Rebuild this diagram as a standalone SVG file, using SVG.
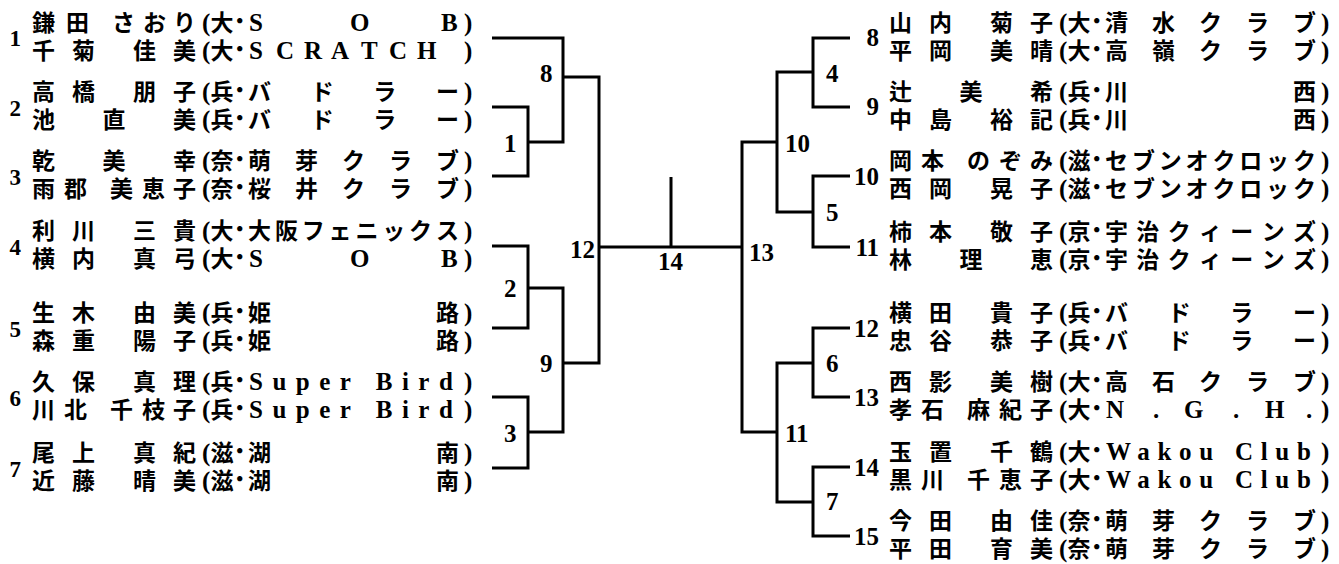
<svg xmlns="http://www.w3.org/2000/svg" width="1339" height="564" viewBox="0 0 1339 564">
<style>
.ln{fill:none;stroke:#000;stroke-width:3;stroke-linejoin:miter;stroke-linecap:butt}
.nm{font-family:'Liberation Serif','Noto Sans CJK JP',serif;font-weight:700;font-size:23px;fill:#000}
.lt{font-size:25px}
.dt{font-size:27px}
.num{font-family:'Liberation Serif',serif;font-weight:700;font-size:25px;fill:#000}
.sdl{font-family:'Liberation Serif',serif;font-weight:700;font-size:23px;fill:#000;text-anchor:end}
.sdr{font-family:'Liberation Serif',serif;font-weight:700;font-size:25px;fill:#000;text-anchor:end}
</style>
<rect width="1339" height="564" fill="#fff"/>
<g id="connectors">
<path class="ln" d="M492,38 H563 V142 H528 M492,107 H528 V176 H492 M563,77 H599 V363 H563 M492,246 H528 V328 H492 M528,288 H563 V432 H528 M492,397 H528 V468 H492 M599,247 H742 M671,177 V247"/>
<path class="ln" d="M777,142 H742 V432 H777 M813,72 H777 V212 H813 M850,38 H813 V107 H850 M850,176 H813 V247 H850 M813,363 H777 V502 H813 M850,328 H813 V397 H850 M850,467 H813 V536 H850"/>
<g id="match-labels" class="num">
<text x="540" y="82">8</text>
<text x="504" y="152">1</text>
<text x="570" y="258">12</text>
<text x="504" y="297">2</text>
<text x="540" y="372">9</text>
<text x="504" y="442">3</text>
<text x="658" y="270">14</text>
<text x="749" y="261">13</text>
<text x="785" y="152">10</text>
<text x="826" y="82">4</text>
<text x="826" y="221">5</text>
<text x="785" y="442">11</text>
<text x="826" y="372">6</text>
<text x="826" y="510">7</text>
</g>
</g>
<g id="seed1">
<text class="sdl" x="21" y="46">1</text>
<text class="nm" y="31"><tspan x="32 66 112 143 173">鎌田さおり</tspan><tspan class="lt" x="202">(</tspan><tspan x="210.5">大</tspan><tspan class="dt" x="233">･</tspan><tspan class="lt" x="249 300 350 395 441">S O B</tspan><tspan class="lt" x="464">)</tspan></text>
<text class="nm" y="59"><tspan x="32 72 133 173">千菊佳美</tspan><tspan class="lt" x="202">(</tspan><tspan x="210.5">大</tspan><tspan class="dt" x="233">･</tspan><tspan class="lt" x="249 276 304 331 361 389 417">SCRATCH</tspan><tspan class="lt" x="464">)</tspan></text>
</g>
<g id="seed2">
<text class="sdl" x="21" y="116">2</text>
<text class="nm" y="100"><tspan x="32 72 133 173">高橋朋子</tspan><tspan class="lt" x="202">(</tspan><tspan x="210.5">兵</tspan><tspan class="dt" x="233">･</tspan><tspan x="248 310.7 373.3 436">バドラー</tspan><tspan class="lt" x="464">)</tspan></text>
<text class="nm" y="128"><tspan x="32 102.5 173">池直美</tspan><tspan class="lt" x="202">(</tspan><tspan x="210.5">兵</tspan><tspan class="dt" x="233">･</tspan><tspan x="248 310.7 373.3 436">バドラー</tspan><tspan class="lt" x="464">)</tspan></text>
</g>
<g id="seed3">
<text class="sdl" x="21" y="185">3</text>
<text class="nm" y="169"><tspan x="32 102.5 173">乾美幸</tspan><tspan class="lt" x="202">(</tspan><tspan x="210.5">奈</tspan><tspan class="dt" x="233">･</tspan><tspan x="248 295 342 389 436">萌芽クラブ</tspan><tspan class="lt" x="464">)</tspan></text>
<text class="nm" y="197"><tspan x="32 64 110 142 173">雨郡美恵子</tspan><tspan class="lt" x="202">(</tspan><tspan x="210.5">奈</tspan><tspan class="dt" x="233">･</tspan><tspan x="248 295 342 389 436">桜井クラブ</tspan><tspan class="lt" x="464">)</tspan></text>
</g>
<g id="seed4">
<text class="sdl" x="21" y="255">4</text>
<text class="nm" y="239"><tspan x="32 72 133 173">利川三貴</tspan><tspan class="lt" x="202">(</tspan><tspan x="210.5">大</tspan><tspan class="dt" x="233">･</tspan><tspan x="248 274.9 301.7 328.6 355.4 382.3 409.1 436">大阪フェニックス</tspan><tspan class="lt" x="464">)</tspan></text>
<text class="nm" y="267"><tspan x="32 72 133 173">横内真弓</tspan><tspan class="lt" x="202">(</tspan><tspan x="210.5">大</tspan><tspan class="dt" x="233">･</tspan><tspan class="lt" x="249 300 350 395 441">S O B</tspan><tspan class="lt" x="464">)</tspan></text>
</g>
<g id="seed5">
<text class="sdl" x="21" y="337">5</text>
<text class="nm" y="321"><tspan x="32 72 133 173">生木由美</tspan><tspan class="lt" x="202">(</tspan><tspan x="210.5">兵</tspan><tspan class="dt" x="233">･</tspan><tspan x="248 436">姫路</tspan><tspan class="lt" x="464">)</tspan></text>
<text class="nm" y="349"><tspan x="32 72 133 173">森重陽子</tspan><tspan class="lt" x="202">(</tspan><tspan x="210.5">兵</tspan><tspan class="dt" x="233">･</tspan><tspan x="248 436">姫路</tspan><tspan class="lt" x="464">)</tspan></text>
</g>
<g id="seed6">
<text class="sdl" x="21" y="406">6</text>
<text class="nm" y="390"><tspan x="32 72 133 173">久保真理</tspan><tspan class="lt" x="202">(</tspan><tspan x="210.5">兵</tspan><tspan class="dt" x="233">･</tspan><tspan class="lt" x="249" letter-spacing="9.5">Super Bird</tspan><tspan class="lt" x="464">)</tspan></text>
<text class="nm" y="418"><tspan x="32 64 110 142 173">川北千枝子</tspan><tspan class="lt" x="202">(</tspan><tspan x="210.5">兵</tspan><tspan class="dt" x="233">･</tspan><tspan class="lt" x="249" letter-spacing="9.5">Super Bird</tspan><tspan class="lt" x="464">)</tspan></text>
</g>
<g id="seed7">
<text class="sdl" x="21" y="477">7</text>
<text class="nm" y="461"><tspan x="32 72 133 173">尾上真紀</tspan><tspan class="lt" x="202">(</tspan><tspan x="210.5">滋</tspan><tspan class="dt" x="233">･</tspan><tspan x="248 436">湖南</tspan><tspan class="lt" x="464">)</tspan></text>
<text class="nm" y="489"><tspan x="32 72 133 173">近藤晴美</tspan><tspan class="lt" x="202">(</tspan><tspan x="210.5">滋</tspan><tspan class="dt" x="233">･</tspan><tspan x="248 436">湖南</tspan><tspan class="lt" x="464">)</tspan></text>
</g>
<g id="seed8">
<text class="sdr" x="879" y="46">8</text>
<g transform="translate(857,0)">
<text class="nm" y="31"><tspan x="32 72 133 173">山内菊子</tspan><tspan class="lt" x="202">(</tspan><tspan x="210.5">大</tspan><tspan class="dt" x="233">･</tspan><tspan x="248 295 342 389 436">清水クラブ</tspan><tspan class="lt" x="464">)</tspan></text>
<text class="nm" y="59"><tspan x="32 72 133 173">平岡美晴</tspan><tspan class="lt" x="202">(</tspan><tspan x="210.5">大</tspan><tspan class="dt" x="233">･</tspan><tspan x="248 295 342 389 436">高嶺クラブ</tspan><tspan class="lt" x="464">)</tspan></text>
</g>
</g>
<g id="seed9">
<text class="sdr" x="879" y="115">9</text>
<g transform="translate(857,0)">
<text class="nm" y="100"><tspan x="32 102.5 173">辻美希</tspan><tspan class="lt" x="202">(</tspan><tspan x="210.5">兵</tspan><tspan class="dt" x="233">･</tspan><tspan x="248 436">川西</tspan><tspan class="lt" x="464">)</tspan></text>
<text class="nm" y="128"><tspan x="32 72 133 173">中島裕記</tspan><tspan class="lt" x="202">(</tspan><tspan x="210.5">兵</tspan><tspan class="dt" x="233">･</tspan><tspan x="248 436">川西</tspan><tspan class="lt" x="464">)</tspan></text>
</g>
</g>
<g id="seed10">
<text class="sdr" x="879" y="185">10</text>
<g transform="translate(857,0)">
<text class="nm" y="169"><tspan x="32 64 110 142 173">岡本のぞみ</tspan><tspan class="lt" x="202">(</tspan><tspan x="210.5">滋</tspan><tspan class="dt" x="233">･</tspan><tspan x="248 274.9 301.7 328.6 355.4 382.3 409.1 436">セブンオクロック</tspan><tspan class="lt" x="464">)</tspan></text>
<text class="nm" y="197"><tspan x="32 72 133 173">西岡晃子</tspan><tspan class="lt" x="202">(</tspan><tspan x="210.5">滋</tspan><tspan class="dt" x="233">･</tspan><tspan x="248 274.9 301.7 328.6 355.4 382.3 409.1 436">セブンオクロック</tspan><tspan class="lt" x="464">)</tspan></text>
</g>
</g>
<g id="seed11">
<text class="sdr" x="879" y="256">11</text>
<g transform="translate(857,0)">
<text class="nm" y="240"><tspan x="32 72 133 173">柿本敬子</tspan><tspan class="lt" x="202">(</tspan><tspan x="210.5">京</tspan><tspan class="dt" x="233">･</tspan><tspan x="248 279.3 310.7 342 373.3 404.7 436">宇治クィーンズ</tspan><tspan class="lt" x="464">)</tspan></text>
<text class="nm" y="268"><tspan x="32 102.5 173">林理恵</tspan><tspan class="lt" x="202">(</tspan><tspan x="210.5">京</tspan><tspan class="dt" x="233">･</tspan><tspan x="248 279.3 310.7 342 373.3 404.7 436">宇治クィーンズ</tspan><tspan class="lt" x="464">)</tspan></text>
</g>
</g>
<g id="seed12">
<text class="sdr" x="879" y="337">12</text>
<g transform="translate(857,0)">
<text class="nm" y="321"><tspan x="32 72 133 173">横田貴子</tspan><tspan class="lt" x="202">(</tspan><tspan x="210.5">兵</tspan><tspan class="dt" x="233">･</tspan><tspan x="248 310.7 373.3 436">バドラー</tspan><tspan class="lt" x="464">)</tspan></text>
<text class="nm" y="349"><tspan x="32 72 133 173">忠谷恭子</tspan><tspan class="lt" x="202">(</tspan><tspan x="210.5">兵</tspan><tspan class="dt" x="233">･</tspan><tspan x="248 310.7 373.3 436">バドラー</tspan><tspan class="lt" x="464">)</tspan></text>
</g>
</g>
<g id="seed13">
<text class="sdr" x="879" y="406">13</text>
<g transform="translate(857,0)">
<text class="nm" y="390"><tspan x="32 72 133 173">西影美樹</tspan><tspan class="lt" x="202">(</tspan><tspan x="210.5">大</tspan><tspan class="dt" x="233">･</tspan><tspan x="248 295 342 389 436">高石クラブ</tspan><tspan class="lt" x="464">)</tspan></text>
<text class="nm" y="418"><tspan x="32 64 110 142 173">孝石麻紀子</tspan><tspan class="lt" x="202">(</tspan><tspan x="210.5">大</tspan><tspan class="dt" x="233">･</tspan><tspan class="lt" x="249 296 327 376 408 449">N.G.H.</tspan><tspan class="lt" x="464">)</tspan></text>
</g>
</g>
<g id="seed14">
<text class="sdr" x="879" y="476">14</text>
<g transform="translate(857,0)">
<text class="nm" y="460"><tspan x="32 72 133 173">玉置千鶴</tspan><tspan class="lt" x="202">(</tspan><tspan x="210.5">大</tspan><tspan class="dt" x="233">･</tspan><tspan class="lt" x="249" letter-spacing="7.7">Wakou Club</tspan><tspan class="lt" x="464">)</tspan></text>
<text class="nm" y="488"><tspan x="32 64 110 142 173">黒川千恵子</tspan><tspan class="lt" x="202">(</tspan><tspan x="210.5">大</tspan><tspan class="dt" x="233">･</tspan><tspan class="lt" x="249" letter-spacing="7.7">Wakou Club</tspan><tspan class="lt" x="464">)</tspan></text>
</g>
</g>
<g id="seed15">
<text class="sdr" x="879" y="545">15</text>
<g transform="translate(857,0)">
<text class="nm" y="529"><tspan x="32 72 133 173">今田由佳</tspan><tspan class="lt" x="202">(</tspan><tspan x="210.5">奈</tspan><tspan class="dt" x="233">･</tspan><tspan x="248 295 342 389 436">萌芽クラブ</tspan><tspan class="lt" x="464">)</tspan></text>
<text class="nm" y="557"><tspan x="32 72 133 173">平田育美</tspan><tspan class="lt" x="202">(</tspan><tspan x="210.5">奈</tspan><tspan class="dt" x="233">･</tspan><tspan x="248 295 342 389 436">萌芽クラブ</tspan><tspan class="lt" x="464">)</tspan></text>
</g>
</g>
</svg>
